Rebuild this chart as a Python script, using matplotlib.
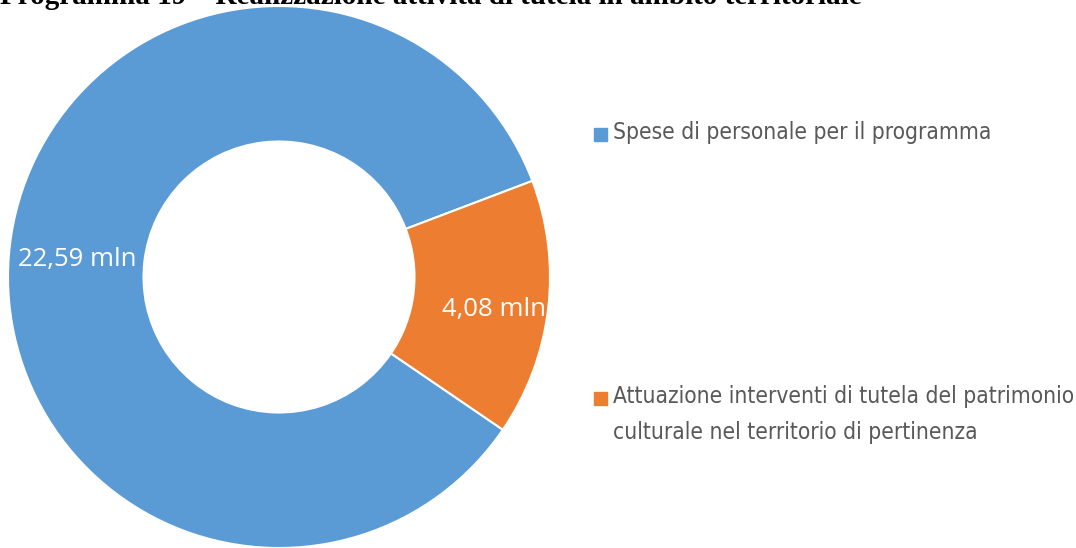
import numpy as np
import matplotlib.pyplot as plt
from matplotlib.patches import Rectangle

# Dati del grafico
categorie = ['Spese di personale per il programma',
             'Attuazione interventi di tutela del patrimonio\nculturale nel territorio di pertinenza']
valori = [22.59, 4.08]
etichette = ['22,59 mln', '4,08 mln']
colori = ['#5B9BD5', '#ED7D31']
titolo = 'Programma 19 \u2013 Realizzazione attivit\u00e0 di tutela in ambito territoriale'

fig = plt.figure(figsize=(10.76, 5.48), dpi=100)
ax = fig.add_axes([8 / 1076, 0.0, 542 / 1076, 542 / 548])

wedges, _ = ax.pie(valori, colors=colori, startangle=-34.3, counterclock=False,
                   radius=1.0, wedgeprops=dict(width=0.5, edgecolor='white', linewidth=1.5))
ax.set_xlim(-1, 1)
ax.set_ylim(-1, 1)
ax.set_aspect('equal')
ax.axis('off')

# Etichette al centro dell'anello
for w, et, dx, dy in zip(wedges, etichette, [0.0, 0.05], [-0.022, -0.03]):
    ang = np.deg2rad((w.theta1 + w.theta2) / 2)
    ax.text(0.75 * np.cos(ang) + dx, 0.75 * np.sin(ang) + dy, et, color='white',
            fontsize=18.5, family='Open Sans', ha='center', va='center')

# Legenda
leg_y = [134, 398]
for c, lab, y in zip(colori, categorie, leg_y):
    fig.patches.append(Rectangle((594 / 1076, 1 - (y + 7) / 548), 13 / 1076, 13 / 548,
                                 transform=fig.transFigure, color=c))
    fig.text(613 / 1076, 1 - (y - 13) / 548, lab, color='#595959', fontsize=16.3,
             family='DejaVu Sans', stretch='condensed', ha='left', va='top',
             linespacing=1.75)

# Titolo (tagliato in alto come nell'originale)
fig.text(0.0, 1 - 4 / 548, titolo, fontsize=21, fontweight='bold',
         family='Liberation Serif', ha='left', va='baseline')

fig.savefig('out.png', dpi=100)
